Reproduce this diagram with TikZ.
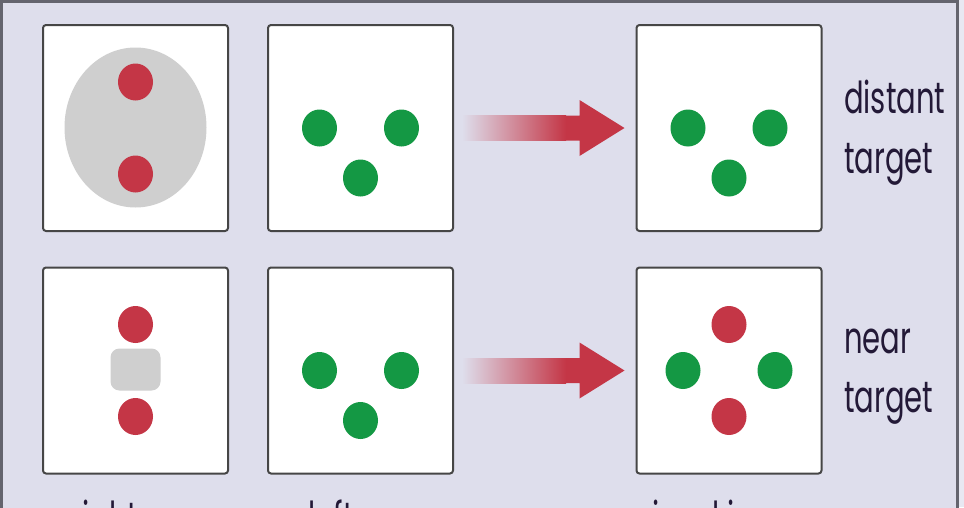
\documentclass[tikz,border=0pt]{standalone}
\usepackage{fontspec}
\setmainfont{Poppins}
\usetikzlibrary{calc}
\definecolor{bgc}{RGB}{222,222,236}
\definecolor{outc}{RGB}{232,232,242}
\definecolor{framec}{RGB}{100,100,110}
\definecolor{redc}{RGB}{196,54,70}
\definecolor{greenc}{RGB}{20,152,68}
\definecolor{grayc}{RGB}{207,207,207}
\definecolor{boxline}{RGB}{70,70,70}
\definecolor{textc}{RGB}{35,25,55}
\tikzset{
  panel/.style={draw=boxline, line width=2pt, fill=white, rounded corners=3pt,
    minimum width=185pt, minimum height=206pt, inner sep=0pt},
  dotr/.style={fill=redc, draw=none},
  dotg/.style={fill=greenc, draw=none},
  lbl/.style={text=textc, font=\fontsize{44}{58}\selectfont, inner sep=0pt},
}
\newcommand{\squeeze}[1]{\scalebox{0.66}[1]{#1}}
\begin{document}
\begin{tikzpicture}[x=1pt,y=-1pt]
\useasboundingbox (0,0) rectangle (964,507);
\clip (0,0) rectangle (964,507);
\fill[outc] (0,0) rectangle (964,507);
\fill[bgc] (1.5,1.5) rectangle (957.5,520);
\draw[framec, line width=3pt] (1.5,520) -- (1.5,1.5) -- (957.5,1.5) -- (957.5,520);

% panels
\node[panel] (a1) at (135.5,128) {};
\node[panel] (a2) at (360.5,128) {};
\node[panel] (a3) at (729,128) {};
\node[panel] (b1) at (135.5,370.5) {};
\node[panel] (b2) at (360.5,370.5) {};
\node[panel] (b3) at (729,370.5) {};

% top row contents
\fill[grayc] (a1.center) ++(0,-0.5) ellipse [x radius=71, y radius=80];
\fill[dotr] ($(a1.center)+(0,-46)$) ellipse [x radius=17.5, y radius=18.5];
\fill[dotr] ($(a1.center)+(0,46)$) ellipse [x radius=17.5, y radius=18.5];

\fill[dotg] ($(a2.center)+(-41,0)$) ellipse [x radius=17.5, y radius=18.5];
\fill[dotg] ($(a2.center)+(41,0)$) ellipse [x radius=17.5, y radius=18.5];
\fill[dotg] ($(a2.center)+(0,50)$) ellipse [x radius=17.5, y radius=18.5];

\fill[dotg] ($(a3.center)+(-41,0)$) ellipse [x radius=17.5, y radius=18.5];
\fill[dotg] ($(a3.center)+(41,0)$) ellipse [x radius=17.5, y radius=18.5];
\fill[dotg] ($(a3.center)+(0,50)$) ellipse [x radius=17.5, y radius=18.5];

% bottom row contents
\fill[grayc, rounded corners=9pt] ($(b1.center)+(-25,-22)$) rectangle ($(b1.center)+(25,20)$);
\fill[dotr] ($(b1.center)+(0,-46)$) ellipse [x radius=17.5, y radius=18.5];
\fill[dotr] ($(b1.center)+(0,46)$) ellipse [x radius=17.5, y radius=18.5];

\fill[dotg] ($(b2.center)+(-41,0)$) ellipse [x radius=17.5, y radius=18.5];
\fill[dotg] ($(b2.center)+(41,0)$) ellipse [x radius=17.5, y radius=18.5];
\fill[dotg] ($(b2.center)+(0,50)$) ellipse [x radius=17.5, y radius=18.5];

\fill[dotr] ($(b3.center)+(0,-46)$) ellipse [x radius=17.5, y radius=18.5];
\fill[dotr] ($(b3.center)+(0,46)$) ellipse [x radius=17.5, y radius=18.5];
\fill[dotg] ($(b3.center)+(-46,0)$) ellipse [x radius=17.5, y radius=18.5];
\fill[dotg] ($(b3.center)+(46,0)$) ellipse [x radius=17.5, y radius=18.5];

% arrows
\foreach \s/\t in {a2/a3, b2/b3}{
  \coordinate (st) at ($(\s.east)+(12,0)$);
  \coordinate (tp) at ($(\t.west)+(-11,0)$);
  \fill[redc] ($(st)+(80,-12.5)$) -- ($(tp)+(-45,-12.5)$) -- ($(tp)+(-45,-28)$) -- (tp)
     -- ($(tp)+(-45,28)$) -- ($(tp)+(-45,12.5)$) -- ($(st)+(80,12.5)$) -- cycle;
  \shade[left color=bgc, right color=redc, shading angle=90]
    ($(st)+(-4,-12.5)$) rectangle ($(st)+(100,12.5)$);
}

% side labels
\node[lbl, anchor=base west] (t1) at (844,113) {\squeeze{distant}};
\node[lbl, anchor=base west] (t2) at (844,173) {\squeeze{target}};
\node[lbl, anchor=base west] (t3) at (844,353) {\squeeze{near}};
\node[lbl, anchor=base west] (t4) at (844,412) {\squeeze{target}};

% bottom labels (cut off by the frame, as in the reference)
\node[lbl, anchor=base] (l1) at (135,533) {\squeeze{right eye}};
\node[lbl, anchor=base] (l2) at (361,533) {\squeeze{left eye}};
\node[lbl, anchor=base] (l3) at (729,533) {\squeeze{visual image}};
\end{tikzpicture}
\end{document}
